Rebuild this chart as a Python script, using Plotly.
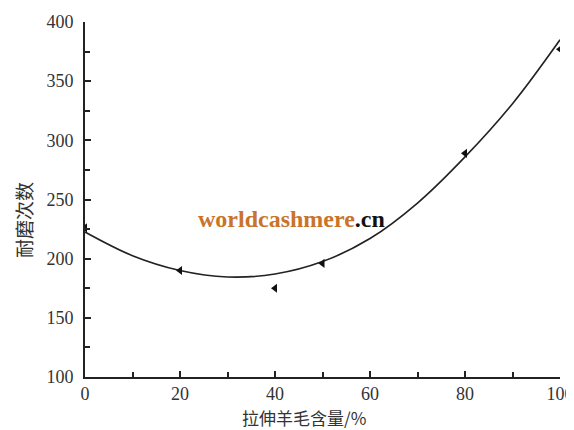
import plotly.graph_objects as go

# measured points
wool_pct = [0, 20, 40, 50, 80, 100]
abrasion_cycles = [226, 190, 175, 196, 289, 377]

# fitted trend curve
fit_x = [0, 10, 20, 30, 40, 50, 60, 70, 80, 90, 100]
fit_y = [222.5, 202.5, 190, 184.5, 187, 197.5, 217, 247, 286, 331, 385]

x_title = "拉伸羊毛含量/%"
y_title = "耐磨次数"

# the page body has an 8px default margin; compensate so the plot lands where the reference has it
OFF = 8
W, H = 574 - OFF, 430 - OFF
L, R, T, B = 85 - OFF, 14, 22 - OFF, 53
plot_w = W - L - R
plot_h = H - T - B

fig = go.Figure()
fig.add_trace(go.Scatter(x=fit_x, y=fit_y, mode="lines",
                         line=dict(color="#222", width=1.6, shape="spline", smoothing=1.0),
                         hoverinfo="skip", showlegend=False))
fig.add_trace(go.Scatter(x=wool_pct, y=abrasion_cycles, mode="markers",
                         marker=dict(symbol="triangle-left", size=8, color="#111"),
                         showlegend=False))

tickfont = dict(family="Liberation Serif, Times New Roman, serif", size=18, color="#333")
axis_common = dict(showgrid=False, zeroline=False, automargin=False,
                   showline=True, linecolor="#222", linewidth=1.6,
                   ticks="inside", ticklen=6, tickwidth=1.5, tickcolor="#222",
                   tickfont=tickfont, ticklabeloverflow="allow")
fig.update_layout(
    width=W, height=H,
    margin=dict(l=L, r=R, t=T, b=B),
    paper_bgcolor="white", plot_bgcolor="white",
    showlegend=False,
    xaxis=dict(range=[0, 100], dtick=20, tick0=0, ticklabelstandoff=0,
               minor=dict(dtick=10, ticks="inside", ticklen=5, tickwidth=1.5, tickcolor="#222"),
               **axis_common),
    yaxis=dict(range=[100, 400], dtick=50, tick0=100, ticklabelstandoff=6,
               minor=dict(dtick=25, ticks="inside", ticklen=5, tickwidth=1.5, tickcolor="#222"),
               **axis_common),
)

def px_x(px):
    return (px - OFF - L) / plot_w

def px_y(py):
    return (H - B - (py - OFF)) / plot_h

# axis titles
fig.add_annotation(x=px_x(304), y=px_y(417), xref="paper", yref="paper", showarrow=False,
                   text=x_title, font=dict(family="Noto Sans CJK SC", size=17, color="#333"),
                   xanchor="center", yanchor="middle")
fig.add_annotation(x=px_x(24), y=px_y(220), xref="paper", yref="paper", showarrow=False,
                   text=y_title, textangle=-90,
                   font=dict(family="Noto Sans CJK SC", size=19, color="#333"),
                   xanchor="center", yanchor="middle")
# watermark
fig.add_annotation(x=px_x(196), y=px_y(219), xref="paper", yref="paper", showarrow=False,
                   text="<b><span style='color:#c8742a'>worldcashmere</span><span style='color:#111'>.cn</span></b>",
                   font=dict(family="Liberation Serif, Times New Roman, serif", size=24),
                   xanchor="left", yanchor="middle")

fig.write_html("out.html")
